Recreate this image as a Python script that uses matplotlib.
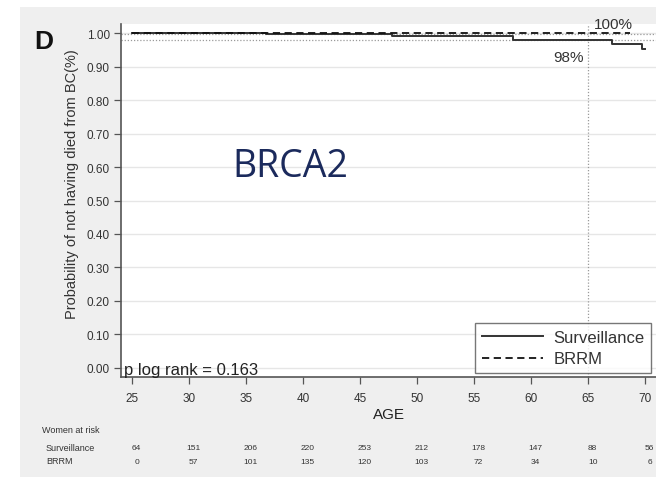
import matplotlib
matplotlib.use("Agg")
import matplotlib.pyplot as plt
import matplotlib.transforms as mtransforms
from matplotlib.patches import Rectangle

plt.rcParams['font.family'] = ['Liberation Sans', 'DejaVu Sans']

# Kaplan-Meier steps (age at event, survival after event)
surv_age = [25, 36.8, 47.8, 58.4, 67.1, 69.7, 70.0]
surv_prob = [1.000, 0.997, 0.992, 0.980, 0.966, 0.953, 0.953]
brrm_age = [25, 68.7]
brrm_prob = [1.000, 1.000]

risk_ages = [25, 30, 35, 40, 45, 50, 55, 60, 65, 70]
risk_surv = ['64', '151', '206', '220', '253', '212', '178', '147', '88', '56']
risk_brrm = ['0', '57', '101', '135', '120', '103', '72', '34', '10', '6']

y_ticks = [0.0, 0.1, 0.2, 0.3, 0.4, 0.5, 0.6, 0.7, 0.8, 0.9, 1.0]

W, H = 656, 481
fig = plt.figure(figsize=(W / 100, H / 100), dpi=100)
fig.patch.set_facecolor('white')
fig.patches.append(Rectangle((20 / W, 3 / H), 1 - 20 / W, 1 - 11 / H,
                             transform=fig.transFigure, facecolor='#efefef',
                             edgecolor='none', zorder=-10))

ax = fig.add_axes([121 / W, 1 - 378 / H, (W - 121) / W, 353 / H])
ax.set_facecolor('white')
ax.set_xlim(24.04, 70.96)
ax.set_ylim(-0.027, 1.027)

for y in y_ticks:
    ax.axhline(y, color='#e6e6e6', lw=1.0, zorder=0)

# reference lines at 65 years
ax.axhline(0.98, color='#9a9a9a', lw=0.9, ls=(0, (1, 1.5)), zorder=1)
ax.axhline(1.00 - 0.003, color='#9a9a9a', lw=0.9, ls=(0, (1, 1.5)), zorder=1)
ax.axvline(65, color='#9a9a9a', lw=0.9, ls=(0, (1, 1.5)), zorder=1)

ax.step(surv_age, surv_prob, where='post', color='#333333', lw=1.4,
        label='Surveillance', zorder=3)
ax.step(brrm_age, brrm_prob, where='post', color='#111111', lw=1.3,
        ls=(0, (4, 2.5)), label='BRRM', zorder=4)

ax.text(67.2, 1.027, '100%', fontsize=11, color='#333333', ha='center',
        va='center', clip_on=False)
ax.text(63.25, 0.928, '98%', fontsize=11, color='#333333', ha='center',
        va='center')
ax.text(24.3, -0.006, 'p log rank = 0.163', fontsize=12, color='#222222',
        ha='left', va='center')
ax.text(38.9, 0.603, 'BRCA2', fontsize=27, color='#1b2a5c',
        family=['Open Sans', 'DejaVu Sans'], ha='center', va='center')

ax.set_xticks(risk_ages)
ax.set_yticks(y_ticks)
ax.set_yticklabels([f'{v:.2f}' for v in y_ticks])
ax.tick_params(axis='both', direction='out', length=5, width=0.9,
               color='#555555', labelcolor='#333333', labelsize=8.5, pad=3)
ax.tick_params(axis='x', pad=6)
for side in ['top', 'right']:
    ax.spines[side].set_visible(False)
for side in ['left', 'bottom']:
    ax.spines[side].set_color('#555555')
    ax.spines[side].set_linewidth(1.2)

ax.set_xlabel('AGE', fontsize=11, color='#222222', labelpad=2)
ax.text(-0.092, 0.55, 'Probability of not having died from BC(%)',
        transform=ax.transAxes, rotation=90, fontsize=10.5, color='#333333',
        ha='center', va='center')

leg = ax.legend(loc='lower right', bbox_to_anchor=(0.9907, 0.011), fontsize=12,
                handlelength=3.7, frameon=True, fancybox=False, borderpad=0.4,
                labelspacing=0.4, handletextpad=0.6, borderaxespad=0)
leg.get_frame().set_edgecolor('#555555')
leg.get_frame().set_linewidth(1.0)
for t in leg.get_texts():
    t.set_color('#333333')

fig.text(44 / W, 1 - 42 / H, 'D', fontsize=19, fontweight='bold',
         color='#111111', ha='center', va='center')

# numbers at risk below the axis
blend = mtransforms.blended_transform_factory(ax.transData, fig.transFigure)
fig.text(42 / W, 1 - 431 / H, 'Women at risk', fontsize=6.5, color='#333333',
         ha='left', va='center')
fig.text(46 / W, 1 - 449 / H, 'Surveillance', fontsize=6.5, color='#333333',
         ha='left', va='center')
fig.text(46 / W, 1 - 462 / H, 'BRRM', fontsize=6.5, color='#333333',
         ha='left', va='center')
for age, s, b in zip(risk_ages, risk_surv, risk_brrm):
    ax.text(age + 0.4, 1 - 449 / H, s, transform=blend, fontsize=6,
            color='#333333', ha='center', va='center', clip_on=False)
    ax.text(age + 0.4, 1 - 462 / H, b, transform=blend, fontsize=6,
            color='#333333', ha='center', va='center', clip_on=False)

fig.savefig('out.png', dpi=100)
